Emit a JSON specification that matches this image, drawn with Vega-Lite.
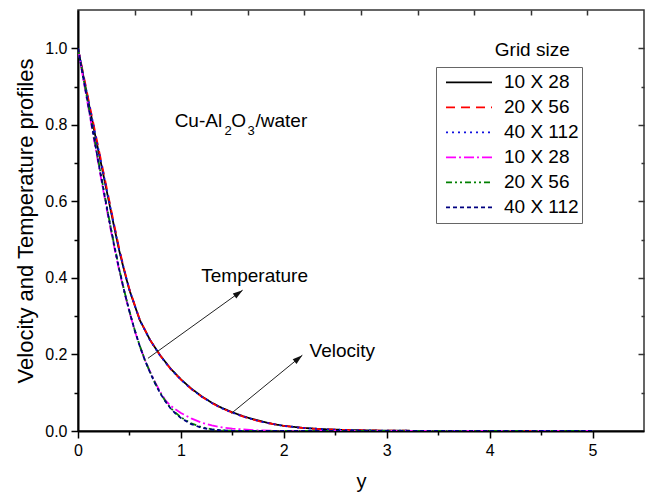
{
  "$schema": "https://vega.github.io/schema/vega-lite/v6.json",
  "width": 566,
  "height": 421,
  "autosize": {"type": "none"},
  "padding": {"left": 78, "top": 10, "right": 3, "bottom": 68},
  "background": "white",
  "config": {
    "view": {"stroke": "#333", "strokeWidth": 1.5},
    "font": "Liberation Sans",
    "axis": {"grid": false, "labelColor": "black", "titleColor": "black", "tickColor": "black", "domainColor": "black", "titleFontWeight": "normal", "labelFlush": false, "labelOverlap": false}
  },
  "datasets": {
    "curves": [
      {"s":"a","x":0,"v":1},{"s":"a","x":0.05,"v":0.93},{"s":"a","x":0.1,"v":0.862},{"s":"a","x":0.15,"v":0.795},{"s":"a","x":0.2,"v":0.73},{"s":"a","x":0.25,"v":0.665},{"s":"a","x":0.3,"v":0.6},{"s":"a","x":0.35,"v":0.535},{"s":"a","x":0.4,"v":0.472},{"s":"a","x":0.45,"v":0.418},{"s":"a","x":0.5,"v":0.368},{"s":"a","x":0.6,"v":0.29},{"s":"a","x":0.7,"v":0.238},{"s":"a","x":0.8,"v":0.197},{"s":"a","x":0.9,"v":0.163},{"s":"a","x":1.0,"v":0.135},{"s":"a","x":1.1,"v":0.111},{"s":"a","x":1.2,"v":0.091},{"s":"a","x":1.3,"v":0.074},{"s":"a","x":1.4,"v":0.06},{"s":"a","x":1.5,"v":0.049},{"s":"a","x":1.6,"v":0.039},{"s":"a","x":1.7,"v":0.031},{"s":"a","x":1.8,"v":0.024},{"s":"a","x":1.9,"v":0.018},{"s":"a","x":2.0,"v":0.0135},{"s":"a","x":2.2,"v":0.0078},{"s":"a","x":2.4,"v":0.0046},{"s":"a","x":2.6,"v":0.0027},{"s":"a","x":2.8,"v":0.0016},{"s":"a","x":3.0,"v":0.0009},{"s":"a","x":3.5,"v":0.0002},{"s":"a","x":4.0,"v":0},{"s":"a","x":4.5,"v":0},{"s":"a","x":5.0,"v":0},
      {"s":"b","x":0,"v":1},{"s":"b","x":0.05,"v":0.935},{"s":"b","x":0.1,"v":0.868},{"s":"b","x":0.15,"v":0.803},{"s":"b","x":0.2,"v":0.738},{"s":"b","x":0.25,"v":0.673},{"s":"b","x":0.3,"v":0.607},{"s":"b","x":0.35,"v":0.541},{"s":"b","x":0.4,"v":0.477},{"s":"b","x":0.45,"v":0.421},{"s":"b","x":0.5,"v":0.37},{"s":"b","x":0.6,"v":0.291},{"s":"b","x":0.7,"v":0.238},{"s":"b","x":0.8,"v":0.197},{"s":"b","x":0.9,"v":0.162},{"s":"b","x":1.0,"v":0.134},{"s":"b","x":1.1,"v":0.11},{"s":"b","x":1.2,"v":0.09},{"s":"b","x":1.3,"v":0.073},{"s":"b","x":1.4,"v":0.059},{"s":"b","x":1.5,"v":0.048},{"s":"b","x":1.6,"v":0.038},{"s":"b","x":1.7,"v":0.03},{"s":"b","x":1.8,"v":0.023},{"s":"b","x":1.9,"v":0.018},{"s":"b","x":2.0,"v":0.0133},{"s":"b","x":2.2,"v":0.0076},{"s":"b","x":2.4,"v":0.0045},{"s":"b","x":2.6,"v":0.0026},{"s":"b","x":2.8,"v":0.0015},{"s":"b","x":3.0,"v":0.0009},{"s":"b","x":3.5,"v":0.0002},{"s":"b","x":4.0,"v":0},{"s":"b","x":4.5,"v":0},{"s":"b","x":5.0,"v":0},
      {"s":"c","x":0,"v":1},{"s":"c","x":0.05,"v":0.932},{"s":"c","x":0.1,"v":0.865},{"s":"c","x":0.15,"v":0.8},{"s":"c","x":0.2,"v":0.734},{"s":"c","x":0.25,"v":0.669},{"s":"c","x":0.3,"v":0.603},{"s":"c","x":0.35,"v":0.538},{"s":"c","x":0.4,"v":0.474},{"s":"c","x":0.45,"v":0.42},{"s":"c","x":0.5,"v":0.369},{"s":"c","x":0.6,"v":0.29},{"s":"c","x":0.7,"v":0.237},{"s":"c","x":0.8,"v":0.196},{"s":"c","x":0.9,"v":0.162},{"s":"c","x":1.0,"v":0.134},{"s":"c","x":1.1,"v":0.11},{"s":"c","x":1.2,"v":0.09},{"s":"c","x":1.3,"v":0.073},{"s":"c","x":1.4,"v":0.059},{"s":"c","x":1.5,"v":0.048},{"s":"c","x":1.6,"v":0.038},{"s":"c","x":1.7,"v":0.03},{"s":"c","x":1.8,"v":0.023},{"s":"c","x":1.9,"v":0.018},{"s":"c","x":2.0,"v":0.0133},{"s":"c","x":2.2,"v":0.0076},{"s":"c","x":2.4,"v":0.0045},{"s":"c","x":2.6,"v":0.0026},{"s":"c","x":2.8,"v":0.0015},{"s":"c","x":3.0,"v":0.0009},{"s":"c","x":3.5,"v":0.0002},{"s":"c","x":4.0,"v":0},{"s":"c","x":4.5,"v":0},{"s":"c","x":5.0,"v":0},
      {"s":"d","x":0,"v":1},{"s":"d","x":0.05,"v":0.922},{"s":"d","x":0.1,"v":0.846},{"s":"d","x":0.15,"v":0.77},{"s":"d","x":0.2,"v":0.695},{"s":"d","x":0.25,"v":0.622},{"s":"d","x":0.3,"v":0.55},{"s":"d","x":0.35,"v":0.483},{"s":"d","x":0.4,"v":0.42},{"s":"d","x":0.45,"v":0.363},{"s":"d","x":0.5,"v":0.311},{"s":"d","x":0.55,"v":0.263},{"s":"d","x":0.6,"v":0.222},{"s":"d","x":0.65,"v":0.186},{"s":"d","x":0.7,"v":0.155},{"s":"d","x":0.75,"v":0.127},{"s":"d","x":0.8,"v":0.102},{"s":"d","x":0.85,"v":0.08},{"s":"d","x":0.9,"v":0.066},{"s":"d","x":0.95,"v":0.056},{"s":"d","x":1.0,"v":0.047},{"s":"d","x":1.1,"v":0.033},{"s":"d","x":1.2,"v":0.022},{"s":"d","x":1.3,"v":0.0145},{"s":"d","x":1.4,"v":0.0095},{"s":"d","x":1.5,"v":0.006},{"s":"d","x":1.75,"v":0.0015},{"s":"d","x":2.0,"v":0},{"s":"d","x":2.5,"v":0},{"s":"d","x":3.0,"v":0},{"s":"d","x":4.0,"v":0},{"s":"d","x":5.0,"v":0},
      {"s":"e","x":0,"v":1},{"s":"e","x":0.05,"v":0.927},{"s":"e","x":0.1,"v":0.853},{"s":"e","x":0.15,"v":0.778},{"s":"e","x":0.2,"v":0.703},{"s":"e","x":0.25,"v":0.63},{"s":"e","x":0.3,"v":0.557},{"s":"e","x":0.35,"v":0.489},{"s":"e","x":0.4,"v":0.424},{"s":"e","x":0.45,"v":0.366},{"s":"e","x":0.5,"v":0.313},{"s":"e","x":0.55,"v":0.265},{"s":"e","x":0.6,"v":0.223},{"s":"e","x":0.65,"v":0.186},{"s":"e","x":0.7,"v":0.154},{"s":"e","x":0.75,"v":0.125},{"s":"e","x":0.8,"v":0.099},{"s":"e","x":0.85,"v":0.078},{"s":"e","x":0.9,"v":0.06},{"s":"e","x":0.95,"v":0.047},{"s":"e","x":1.0,"v":0.036},{"s":"e","x":1.1,"v":0.02},{"s":"e","x":1.2,"v":0.01},{"s":"e","x":1.3,"v":0.0045},{"s":"e","x":1.4,"v":0.0018},{"s":"e","x":1.5,"v":0.0006},{"s":"e","x":1.75,"v":0},{"s":"e","x":2.0,"v":0},{"s":"e","x":2.5,"v":0},{"s":"e","x":3.0,"v":0},{"s":"e","x":4.0,"v":0},{"s":"e","x":5.0,"v":0},
      {"s":"f","x":0,"v":1},{"s":"f","x":0.05,"v":0.925},{"s":"f","x":0.1,"v":0.85},{"s":"f","x":0.15,"v":0.775},{"s":"f","x":0.2,"v":0.7},{"s":"f","x":0.25,"v":0.627},{"s":"f","x":0.3,"v":0.555},{"s":"f","x":0.35,"v":0.487},{"s":"f","x":0.4,"v":0.423},{"s":"f","x":0.45,"v":0.365},{"s":"f","x":0.5,"v":0.312},{"s":"f","x":0.55,"v":0.264},{"s":"f","x":0.6,"v":0.222},{"s":"f","x":0.65,"v":0.185},{"s":"f","x":0.7,"v":0.153},{"s":"f","x":0.75,"v":0.124},{"s":"f","x":0.8,"v":0.098},{"s":"f","x":0.85,"v":0.077},{"s":"f","x":0.9,"v":0.059},{"s":"f","x":0.95,"v":0.045},{"s":"f","x":1.0,"v":0.034},{"s":"f","x":1.1,"v":0.018},{"s":"f","x":1.2,"v":0.0085},{"s":"f","x":1.3,"v":0.0038},{"s":"f","x":1.4,"v":0.0015},{"s":"f","x":1.5,"v":0.0005},{"s":"f","x":1.75,"v":0},{"s":"f","x":2.0,"v":0},{"s":"f","x":2.5,"v":0},{"s":"f","x":3.0,"v":0},{"s":"f","x":4.0,"v":0},{"s":"f","x":5.0,"v":0}
    ],
    "notes": [
      {"k":"g","t":"Grid size","x":4.05,"y":0.98},
      {"k":"m","t":"Cu-Al","x":0.939,"y":0.7945},
      {"k":"s","t":"2","x":1.424,"y":0.773},
      {"k":"m","t":"O","x":1.49,"y":0.7945},
      {"k":"s","t":"3","x":1.648,"y":0.773},
      {"k":"m","t":"/water","x":1.725,"y":0.7945},
      {"k":"m","t":"Temperature","x":1.198,"y":0.39},
      {"k":"m","t":"Velocity","x":2.25,"y":0.194}
    ],
    "arrows": [
      {"k":"T","x":0.68,"y":0.19,"x2":1.6,"y2":0.368},
      {"k":"V","x":1.49,"y":0.046,"x2":2.18,"y2":0.198}
    ]
  },
  "resolve": {"axis": {"x": "independent", "y": "independent"}},
  "layer": [
    {
      "data": {"name": "curves"},
      "mark": {"type": "line", "strokeWidth": 1.8, "clip": true},
      "encoding": {
        "x": {"field": "x", "type": "quantitative", "scale": {"domain": [0, 5.5], "nice": false, "zero": false},
          "axis": {"values": [0,1,2,3,4,5], "format": "d",
            "tickSize": 7, "tickWidth": 1.5, "domainWidth": 2, "labelFontSize": 16, "labelPadding": 4,
            "title": "y", "titleFontSize": 20, "titlePadding": 13}},
        "y": {"field": "v", "type": "quantitative", "scale": {"domain": [0, 1.1], "nice": false, "zero": false},
          "axis": {"values": [0,0.2,0.4,0.6,0.8,1.0], "format": ".1f",
            "tickSize": 7, "tickWidth": 1.5, "domainWidth": 2, "labelFontSize": 16, "labelPadding": 4,
            "title": "Velocity and Temperature profiles", "titleFontSize": 22, "titlePadding": 7}},
        "color": {"field": "s", "type": "nominal",
          "scale": {"domain": ["a","b","c","d","e","f"], "range": ["#000000","#ff0000","#1010e0","#ff00ff","#008000","#000080"]},
          "legend": {"orient": "none", "legendX": 358, "legendY": 57, "title": null,
            "labelExpr": "datum.value==='a'||datum.value==='d' ? '10 X 28' : (datum.value==='b'||datum.value==='e' ? '20 X 56' : '40 X 112')",
            "symbolType": "stroke", "symbolSize": 2116, "symbolStrokeWidth": 1.8, "clipHeight": 24.7, "rowPadding": 0,
            "labelFontSize": 19, "labelColor": "black", "labelLimit": 0, "strokeColor": "#666", "padding": 3,
            "symbolOffset": 6, "labelOffset": 11}},
        "strokeDash": {"field": "s", "type": "nominal",
          "scale": {"domain": ["a","b","c","d","e","f"], "range": [[1,0],[9,6],[2,4],[10,3,2,3],[6,3,2,3,2,3],[4,3]]}}
      }
    },
    {
      "data": {"name": "notes"},
      "transform": [{"filter": "datum.k==='g'"}],
      "mark": {"type": "text", "fontSize": 19, "align": "left", "baseline": "alphabetic", "color": "black"},
      "encoding": {
        "x": {"field": "x", "type": "quantitative", "scale": {"domain": [0, 5.5], "nice": false, "zero": false},
          "axis": {"orient": "top", "values": [0.55,1.1,1.65,2.2,2.75,3.3,3.85,4.4,4.95], "labels": false, "title": null, "domain": false, "tickSize": -5, "tickWidth": 1.5, "tickColor": "#333"}},
        "y": {"field": "y", "type": "quantitative", "scale": {"domain": [0, 1.1], "nice": false, "zero": false},
          "axis": {"orient": "right", "values": [0.2,0.4,0.6,0.8,1.0], "labels": false, "title": null, "domain": false,
            "tickSize": -6, "tickWidth": 1.5, "tickColor": "#333"}},
        "text": {"field": "t"}
      }
    },
    {
      "data": {"name": "notes"},
      "transform": [{"filter": "datum.k==='m'"}],
      "mark": {"type": "text", "fontSize": 19, "align": "left", "baseline": "alphabetic", "color": "black"},
      "encoding": {
        "x": {"field": "x", "type": "quantitative", "scale": {"domain": [0, 5.5], "nice": false, "zero": false},
          "axis": {"orient": "bottom", "values": [0.5,1.5,2.5,3.5,4.5], "labels": false, "title": null, "domain": false, "tickSize": 4, "tickWidth": 1.5, "offset": 0}},
        "y": {"field": "y", "type": "quantitative", "scale": {"domain": [0, 1.1], "nice": false, "zero": false},
          "axis": {"orient": "left", "values": [0.1,0.3,0.5,0.7,0.9], "labels": false, "title": null, "domain": false, "tickSize": 4, "tickWidth": 1.5, "offset": 0}},
        "text": {"field": "t"}
      }
    },
    {
      "data": {"name": "notes"},
      "transform": [{"filter": "datum.k==='s'"}],
      "mark": {"type": "text", "fontSize": 13, "align": "left", "baseline": "alphabetic", "color": "black"},
      "encoding": {
        "x": {"field": "x", "type": "quantitative", "scale": {"domain": [0, 5.5], "nice": false, "zero": false}, "axis": null},
        "y": {"field": "y", "type": "quantitative", "scale": {"domain": [0, 1.1], "nice": false, "zero": false},
          "axis": {"orient": "right", "values": [0.1,0.3,0.5,0.7,0.9], "labels": false, "title": null, "domain": false, "tickSize": -3, "tickWidth": 1.5, "tickColor": "#333", "offset": 0}},
        "text": {"field": "t"}
      }
    },
    {
      "data": {"name": "arrows"},
      "mark": {"type": "rule", "color": "#222", "strokeWidth": 1},
      "encoding": {
        "x": {"field": "x", "type": "quantitative", "scale": {"domain": [0, 5.5], "nice": false, "zero": false}, "axis": null},
        "y": {"field": "y", "type": "quantitative", "scale": {"domain": [0, 1.1], "nice": false, "zero": false}, "axis": null},
        "x2": {"field": "x2"},
        "y2": {"field": "y2"}
      }
    },
    {
      "data": {"name": "arrows"},
      "transform": [{"filter": "datum.k==='T'"}],
      "mark": {"type": "point", "shape": "M0,0L-0.6,2L0.6,2Z", "size": 100, "filled": true, "color": "#111", "opacity": 1, "angle": 54.3},
      "encoding": {
        "x": {"field": "x2", "type": "quantitative", "scale": {"domain": [0, 5.5], "nice": false, "zero": false}, "axis": null},
        "y": {"field": "y2", "type": "quantitative", "scale": {"domain": [0, 1.1], "nice": false, "zero": false}, "axis": null}
      }
    },
    {
      "data": {"name": "arrows"},
      "transform": [{"filter": "datum.k==='V'"}],
      "mark": {"type": "point", "shape": "M0,0L-0.6,2L0.6,2Z", "size": 100, "filled": true, "color": "#111", "opacity": 1, "angle": 50.7},
      "encoding": {
        "x": {"field": "x2", "type": "quantitative", "scale": {"domain": [0, 5.5], "nice": false, "zero": false}, "axis": null},
        "y": {"field": "y2", "type": "quantitative", "scale": {"domain": [0, 1.1], "nice": false, "zero": false}, "axis": null}
      }
    }
  ]
}
